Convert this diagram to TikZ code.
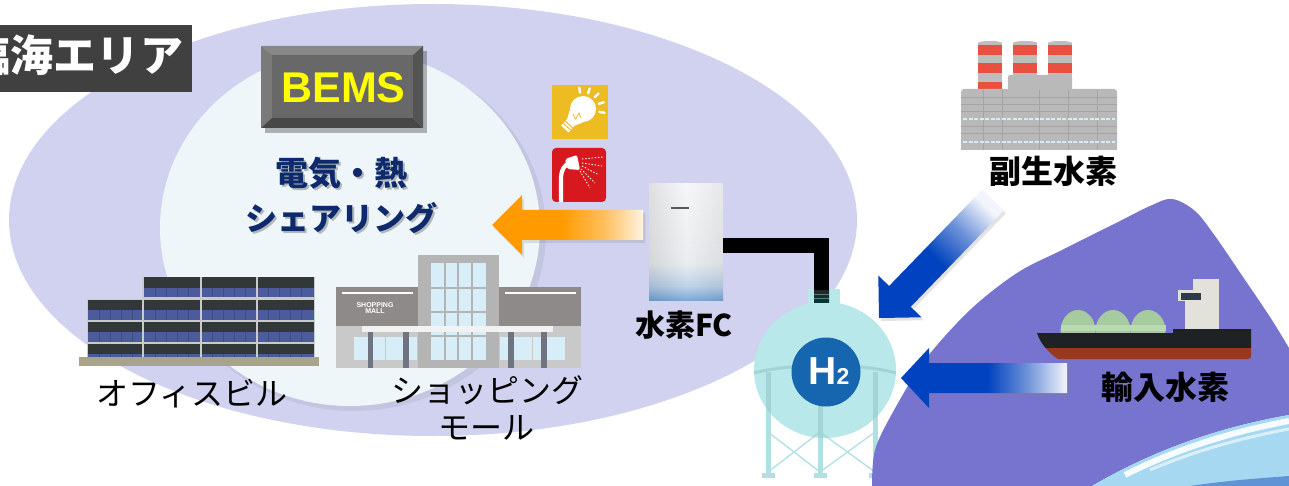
\documentclass[tikz,border=0pt]{standalone}
\usepackage{fontspec}
\newfontfamily\jp{Noto Sans CJK JP}
\newfontfamily\lsans{Liberation Sans}
\usetikzlibrary{shadows}

% palette
\definecolor{lav}{HTML}{D1D2EF}
\definecolor{innerbg}{HTML}{EEF6F9}
\definecolor{purp}{HTML}{7674CF}
\definecolor{navy}{HTML}{0E2A6C}
\definecolor{titlebg}{HTML}{404040}
\definecolor{bemsFace}{HTML}{686868}
\definecolor{bemsTop}{HTML}{888888}
\definecolor{bemsLeft}{HTML}{7A7A7A}
\definecolor{bemsBot}{HTML}{474747}
\definecolor{bemsRight}{HTML}{545454}
\definecolor{bemsText}{HTML}{FFFF00}
\definecolor{bulbY}{HTML}{EDBB22}
\definecolor{showerR}{HTML}{D7191F}
\definecolor{arrOr}{HTML}{FF9A00}
\definecolor{arrOrM}{HTML}{FFBF5C}
\definecolor{arrOrL}{HTML}{FFF3E2}
\definecolor{arrBl}{HTML}{0042BF}
\definecolor{arrBlM}{HTML}{6E92D8}
\definecolor{arrBlL}{HTML}{F2F5FC}
\definecolor{fcB}{HTML}{4C86C9}
\definecolor{fcB2}{HTML}{A3C0E2}
\definecolor{fcW2}{HTML}{E2E6EA}
\definecolor{fcW}{HTML}{F3F4F5}
\definecolor{tankC}{HTML}{B8E8EA}
\definecolor{tankLine}{HTML}{A2D4D6}
\definecolor{tankLeg}{HTML}{B0E0E2}
\definecolor{h2blue}{HTML}{1565AF}
\definecolor{water}{HTML}{A6D8F2}
\definecolor{waterDeep}{HTML}{5F93D6}
\definecolor{offDark}{HTML}{323838}
\definecolor{offBlue}{HTML}{4B5B9B}
\definecolor{offMull}{HTML}{3D4B86}
\definecolor{offSep}{HTML}{C9CACA}
\definecolor{offBase}{HTML}{A8A48C}
\definecolor{mallDark}{HTML}{8E8A8A}
\definecolor{mallLight}{HTML}{C9C9C9}
\definecolor{mallFrame}{HTML}{B4B4B4}
\definecolor{mallGlass}{HTML}{D7EEF8}
\definecolor{mallPillar}{HTML}{6F7580}
\definecolor{stackR}{HTML}{E8503F}
\definecolor{stackG}{HTML}{BDBDBD}
\definecolor{factG}{HTML}{B9B9B9}
\definecolor{factLine}{HTML}{A4A4A4}
\definecolor{factWin}{HTML}{D6ECF6}
\definecolor{shipBlack}{HTML}{1E2224}
\definecolor{shipRed}{HTML}{96391F}
\definecolor{domeG}{HTML}{A6CB9E}
\definecolor{domeBand}{HTML}{BBD9B2}
\definecolor{bridgeW}{HTML}{E3E2DA}
\definecolor{bridgeWin}{HTML}{2E3A4A}

% gradients of the three arrows and of the fuel-cell cabinet
\pgfdeclarehorizontalshading{orfade}{100bp}{color(0bp)=(arrOr); color(48bp)=(arrOr); color(62bp)=(arrOrM); color(75bp)=(arrOrL); color(100bp)=(arrOrL)}
\pgfdeclarehorizontalshading{bhfade}{100bp}{color(0bp)=(arrBl); color(51bp)=(arrBl); color(63bp)=(arrBlM); color(75bp)=(arrBlL); color(100bp)=(arrBlL)}
\pgfdeclarehorizontalshading{bdfade}{100bp}{color(0bp)=(arrBl); color(47bp)=(arrBl); color(62bp)=(arrBlM); color(76bp)=(arrBlL); color(100bp)=(arrBlL)}
\pgfdeclareverticalshading{fcshade}{100bp}{color(0bp)=(fcB); color(25bp)=(fcB); color(31bp)=(fcB2); color(41bp)=(fcW2); color(75bp)=(fcW); color(100bp)=(fcW)}

\newcommand{\pxsize}[1]{\fontsize{#1pt}{#1pt}\selectfont}

\tikzset{
  lbl/.style={inner sep=0pt, outer sep=0pt},
  jpb/.style={lbl, font=\jp\bfseries\pxsize{#1}},
  jpr/.style={lbl, font=\jp\pxsize{#1}},
  arrshadow/.style={drop shadow={opacity=0.22, shadow xshift=2pt, shadow yshift=-3pt}},
}

\begin{document}
\begin{tikzpicture}[x=1pt,y=-1pt]
\useasboundingbox (0,0) rectangle (1289,486);
\fill[white] (0,0) rectangle (1289,486);

% ---- waterfront area: large lavender ellipse and the light sharing zone
\fill[lav] (433,220) ellipse [x radius=424pt, y radius=216pt];
\fill[black, opacity=0.06] (354,232) ellipse [x radius=192pt, y radius=179pt];
\fill[innerbg] (350,228) ellipse [x radius=190pt, y radius=178pt];

% ---- area title (its first character runs off the left edge)
\fill[titlebg] (0,25) rectangle (192,92);
\node[jpb=43, text=white, anchor=east] (title) at (183,55) {臨海エリア};

% ---- BEMS panel
\fill[black, opacity=0.28] (265,51) rectangle (427,133);
\fill[bemsTop] (261,46) -- (423,46) -- (413,55) -- (272,55) -- cycle;
\fill[bemsLeft] (261,46) -- (272,55) -- (272,118) -- (261,128) -- cycle;
\fill[bemsBot] (261,128) -- (272,118) -- (413,118) -- (423,128) -- cycle;
\fill[bemsRight] (423,46) -- (413,55) -- (413,118) -- (423,128) -- cycle;
\fill[bemsFace] (272,55) rectangle (413,118);
\node[lbl, font=\lsans\bfseries\pxsize{43}, text=bemsText] (bems) at (343.5,88) {BEMS};

% ---- sharing caption
\node[jpb=33, text=black, opacity=0.25] (elecShadow) at (343,175) {電気・熱};
\node[jpb=33, text=navy] (elec) at (341,173) {電気・熱};
\node[jpb=32, text=black, opacity=0.25] (shareShadow) at (343,220) {シェアリング};
\node[jpb=32, text=navy] (share) at (341,218) {シェアリング};

% ---- lighting icon
\fill[bulbY] (552,85) rectangle (608,139);
\fill[white] (583,109) circle [radius=13pt];
\fill[white] (583.0,122.4) -- (569.6,110.4) -- (567.2,118.9) -- (574.6,125.7) -- cycle;
\fill[white] (574.6,125.7) -- (567.2,118.9) -- (561.2,125.6) -- (568.6,132.4) -- cycle;
\draw[bulbY, line width=1pt] (572.6,127.8) -- (565.2,121.0) (570.6,130.0) -- (563.2,123.2);
\draw[bulbY, line width=0.8pt] (575.5,119.5) -- (579,113) -- (581,118) (575.5,119.5) -- (573,114);
\draw[white, line width=2.4pt, line cap=round]
  (580.1,92.8) -- (579.2,87.6)
  (588.1,93.3) -- (589.7,88.4)
  (594.7,97.3) -- (598.4,93.6)
  (598.7,103.9) -- (603.7,102.3)
  (599.3,111.9) -- (604.5,112.8);

% ---- hot-water icon
\fill[showerR, rounded corners=4pt] (552,148) rectangle (606,202);
\draw[white, line width=4.2pt] (561,202) -- (561,179) .. controls (561,170) and (564,165) .. (570,163);
\fill[white, rounded corners=2pt] (565,159) -- (577,155) -- (580,170) -- (567,169) -- cycle;
\draw[white, line width=0.9pt, dash pattern=on 1.4pt off 1.8pt]
  (582,159) -- (603,157)
  (582,163) -- (602,166)
  (582,166) -- (599,175)
  (581,169) -- (595,183)
  (580,171) -- (590,188);

% ---- heat/power flow arrow
\shade[shading=orfade, arrshadow]
  (492,225) -- (522,195) -- (522,210) -- (643,210) -- (643,240) -- (522,240) -- (522,255) -- cycle;

% ---- fuel-cell cabinet and its pipe to the tank
\shade[shading=fcshade] (649,184) rectangle (723,300);
\shade[left color=black!30, right color=black!20, middle color=white, opacity=0.3] (649,184) rectangle (723,300);
\fill[black!65] (671,207.5) rectangle (689,209.5);
\node[jpb=30, text=black] (fcLabel) at (684,325) {水素FC};

% ---- hydrogen tank
\foreach \lx in {768,820,875}{
  \fill[tankLeg] (\lx-2.5,372) rectangle (\lx+2.5,477);
  \fill[tankLeg] (\lx-6.5,473) rectangle (\lx+6.5,478);
}
\draw[tankLeg, line width=1.3pt] (768,432) -- (820,472) (820,432) -- (768,472)
  (820,432) -- (875,472) (875,432) -- (820,472);
\fill[tankC] (808,289) rectangle (840,304);
\fill[tankC] (825,370) ellipse [x radius=71pt, y radius=68pt];
\begin{scope}
  \clip (825,370) ellipse [x radius=71pt, y radius=68pt];
  \foreach \lx in {768,820,875}{
    \fill[tankLine] (\lx-2.5,372) rectangle (\lx+2.5,440);
  }
  \draw[tankLine, line width=1.3pt] (768,432) -- (790,449) (875,432) -- (853,449) (820,432) -- (843,449) (820,432) -- (797,449);
\end{scope}
\draw[tankLine, line width=3pt] (754,373) .. controls (790,363) and (860,363) .. (896,373);
\draw[black, line width=15pt] (723,245.5) -- (821.5,245.5) -- (821.5,291);
\shade[top color=black!85, bottom color=black!55!teal] (814,290) rectangle (829,302);
\draw[white, opacity=0.35, line width=0.8pt] (814,294.5) -- (829,294.5) (814,298) -- (829,298);
\fill[h2blue] (826,372) circle [radius=34.5pt];
\node[lbl, font=\lsans\bfseries, text=white] (h2) at (829,371) {\pxsize{39}H\pxsize{23}2};

% ---- office building
\fill[offSep] (143,277) rectangle (315,357);
\fill[offSep] (87,299) rectangle (143,357);
\foreach \y/\b/\e in {277/288/297, 300/310/320, 322/332/342, 344/354/357}{
  \fill[offDark] (144,\y) rectangle (314,\b);
  \fill[offBlue] (144,\b) rectangle (314,\e);
}
\foreach \y/\b/\e in {300/310/320, 322/332/342, 344/354/357}{
  \fill[offDark] (88,\y) rectangle (142,\b);
  \fill[offBlue] (88,\b) rectangle (142,\e);
}
\foreach \x in {99,110,121,132,155,166,177,188,212,223,234,245,268,279,290,301}{
  \draw[offMull, line width=0.7pt] (\x,310) -- (\x,320) (\x,332) -- (\x,342) (\x,354) -- (\x,357);
}
\foreach \x in {155,166,177,188,212,223,234,245,268,279,290,301}{
  \draw[offMull, line width=0.7pt] (\x,288) -- (\x,297);
}
\foreach \x in {143,201,257}{
  \fill[offSep] (\x-1,277) rectangle (\x+1,357);
}
\fill[offBase] (79,357) rectangle (319,366);
\node[jpr=32, text=black] (officeLabel) at (192,394) {オフィスビル};

% ---- shopping mall
\fill[mallDark] (336,287) rectangle (418,326);
\fill[mallLight] (336,326) rectangle (418,368);
\fill[mallDark] (499,287) rectangle (581,326);
\fill[mallLight] (499,326) rectangle (581,368);
\draw[white, line width=1.3pt] (342,293) -- (413,293) (505,293) -- (576,293);
\node[lbl, font=\lsans\bfseries\pxsize{7}, text=white, align=center] (mallSign) at (375,308) {SHOPPING\\[-1pt]MALL};
\fill[mallFrame] (418,255) rectangle (499,368);
\fill[mallGlass] (431,263) rectangle (486,360);
\draw[mallFrame, line width=1.2pt] (445,263) -- (445,360) (458,263) -- (458,360) (472,263) -- (472,360)
  (431,288) -- (486,288) (431,312) -- (486,312) (431,336) -- (486,336);
\fill[mallGlass] (354,337) rectangle (417,360);
\fill[mallGlass] (500,337) rectangle (565,360);
\draw[mallLight, line width=1pt] (385,337) -- (385,360) (532,337) -- (532,360);
\fill[white!95!black] (362,326) rectangle (553,332);
\foreach \px in {370.5,406,511,544}{
  \fill[mallPillar] (\px-2.8,332) rectangle (\px+2.8,368);
}
\node[jpr=32, text=black] (shopLabel) at (487,390) {ショッピング};
\node[jpr=32, text=black] (mallLabel) at (486,428) {モール};

% ---- import region and sea
\fill[purp] plot[smooth, tension=0.55] coordinates {(872,486) (875,450) (893,412) (925,360) (970,310) (1017,273) (1062,250) (1118,222) (1150,206) (1172,199) (1195,211) (1215,236) (1243,277) (1270,317) (1289,348)}
  -- (1289,415) .. controls (1215,428) and (1150,452) .. (1092,486) -- cycle;
\fill[water] (1289,415) .. controls (1215,428) and (1150,452) .. (1092,486) -- (1289,486) -- cycle;
\draw[white, line width=6pt, opacity=0.9] (1289,421) .. controls (1225,433) and (1170,452) .. (1125,475);
\draw[white, line width=3pt, opacity=0.6] (1289,429) .. controls (1230,440) and (1185,455) .. (1150,470);
\fill[waterDeep] (1190,486) .. controls (1230,480) and (1265,478) .. (1289,476) -- (1289,486) -- cycle;

% ---- import ship
\foreach \dx in {1078,1113,1148}{
  \fill[domeG] (\dx,331) ellipse [x radius=17.5pt, y radius=21pt];
  \fill[domeBand] (\dx-17.5,325) rectangle (\dx+17.5,331);
}
\fill[bridgeW] (1193,279) rectangle (1219,330);
\fill[bridgeW] (1178,290) rectangle (1219,301);
\fill[bridgeW] (1185,300) rectangle (1219,330);
\fill[bridgeWin] (1181,293) rectangle (1201,300);
\begin{scope}
  \clip (1037,333) -- (1173,333) -- (1173,329) -- (1251,329) -- (1251,355)
    .. controls (1251,358) .. (1248,359) -- (1058,359) .. controls (1047,352) and (1040,342) .. (1037,333) -- cycle;
  \fill[shipBlack] (1030,325) rectangle (1260,348);
  \fill[shipRed] (1030,348) rectangle (1260,362);
\end{scope}
\node[jpb=32, text=black] (importLabel) at (1165,387) {輸入水素};

% ---- by-product hydrogen plant
\foreach \sx in {978,1013,1048}{
  \fill[stackG] (\sx,43) rectangle (\sx+24,89);
  \fill[stackG] (\sx+12,43) ellipse [x radius=12pt, y radius=2pt];
  \fill[stackR] (\sx,45) rectangle (\sx+24,55);
  \fill[stackR] (\sx,63) rectangle (\sx+24,73);
  \fill[stackR] (\sx,82) rectangle (\sx+24,89);
}
\fill[factG, rounded corners=2pt] (1008,75) rectangle (1072,92);
\fill[factG, rounded corners=3pt] (961,89) rectangle (1117,150);
\fill[factG] (961,95) rectangle (1117,150);
\draw[factLine, line width=0.8pt] (961,97) -- (1117,97) (961,104) -- (1117,104) (961,111) -- (1117,111)
  (961,126) -- (1117,126) (961,133) -- (1117,133);
\draw[factLine, line width=0.8pt] (983,90) -- (983,150) (1002,90) -- (1002,150) (1039,90) -- (1039,150)
  (1068,90) -- (1068,150) (1097,90) -- (1097,150);
\draw[factWin, line width=2.8pt, dash pattern=on 4pt off 1.5pt] (963,119) -- (1115,119) (963,142) -- (1115,142);
\node[jpb=32, text=black] (byprodLabel) at (1053,171) {副生水素};

% ---- hydrogen supply arrows
\shade[shading=bdfade, shading angle=46, arrshadow]
  (879,318) -- (878.3,275.5) -- (889.1,286.0) -- (982.2,189.7) -- (1003.8,210.5) -- (910.7,306.8) -- (921.5,317.3) -- cycle;
\shade[shading=bhfade, arrshadow]
  (901,378) -- (929,348) -- (929,363) -- (1067,363) -- (1067,393) -- (929,393) -- (929,408) -- cycle;

\end{tikzpicture}
\end{document}
